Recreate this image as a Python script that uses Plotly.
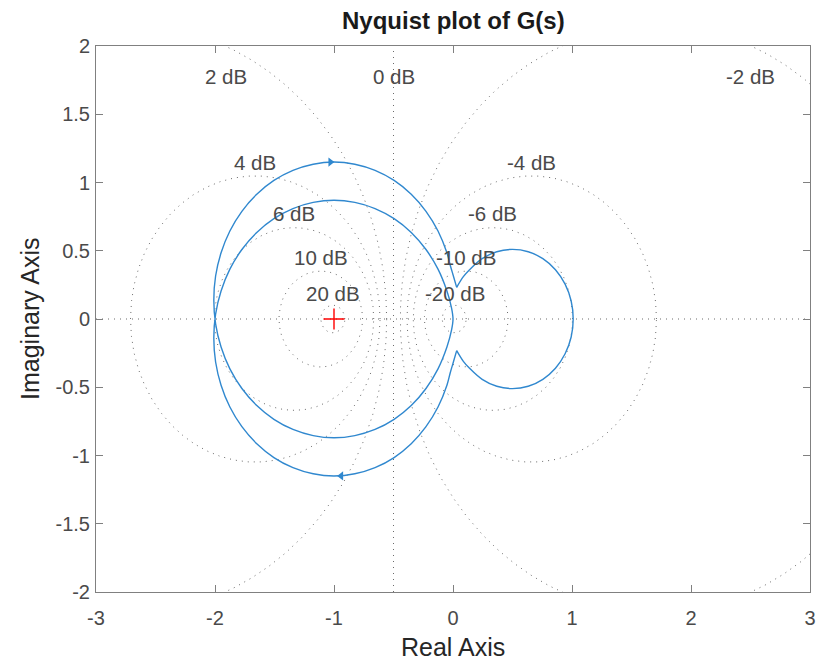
import numpy as np
import plotly.graph_objects as go

# ---------------- data ----------------
# positive-frequency branch, part 1: from w=0 (point 1+0j) to the cusp
small_re = [1.01, 0.993, 0.942, 0.861, 0.755, 0.632, 0.5, 0.368, 0.245, 0.139,
            0.087, 0.031]
small_im = [0.0, -0.132, -0.255, -0.361, -0.442, -0.493, -0.51, -0.493, -0.442, -0.361,
            -0.31, -0.232]

# positive-frequency branch, part 2: from the cusp round the big loop to the origin
loop_re = [0.031, 0.005, -0.022, -0.051, -0.126, -0.227, -0.351, -0.495, -0.655, -0.825,
           -1.0, -1.175, -1.345, -1.505, -1.649, -1.774, -1.875, -1.949, -1.995, -2.01,
           -1.995, -1.949, -1.875, -1.774, -1.649, -1.505, -1.345, -1.175, -1.0, -0.825,
           -0.655, -0.495, -0.351, -0.227, -0.126, -0.051, -0.012, 0.0]
loop_im = [-0.232, -0.31, -0.39, -0.485, -0.645, -0.789, -0.914, -1.015, -1.089, -1.134,
           -1.15, -1.134, -1.089, -1.015, -0.914, -0.789, -0.645, -0.485, -0.315, -0.14,
           0.035, 0.205, 0.365, 0.509, 0.634, 0.735, 0.809, 0.854, 0.87, 0.854,
           0.809, 0.735, 0.634, 0.509, 0.365, 0.205, 0.08, 0.0]

# constant closed-loop gain circles (dB) and their labels
grid_db = [20, 10, 6, 4, 2, -2, -4, -6, -10, -20]
label_text = ["2 dB", "0 dB", "-2 dB", "4 dB", "-4 dB", "6 dB", "-6 dB",
              "10 dB", "-10 dB", "20 dB", "-20 dB"]
label_x = [-1.91, -0.50, 2.50, -1.661, 0.661, -1.336, 0.336, -1.111, 0.111, -1.01, 0.02]
label_y = [1.78, 1.78, 1.78, 1.15, 1.15, 0.77, 0.77, 0.447, 0.447, 0.19, 0.19]

x_ticks = [-3, -2, -1, 0, 1, 2, 3]
x_ticklabels = ["-3", "-2", "-1", "0", "1", "2", "3"]
y_ticks = [-2, -1.5, -1, -0.5, 0, 0.5, 1, 1.5, 2]
y_ticklabels = ["-2", "-1.5", "-1", "-0.5", "0", "0.5", "1", "1.5", "2"]

critical_point = [-1.0, 0.0]

# ---------------- figure ----------------
LINE = "#3088cf"
GRID = "#5a5a5a"
TXT = "#4a4a4a"
FONT = "Liberation Sans, Arial, Helvetica, sans-serif"

fig = go.Figure()

# M-circles
t = np.linspace(0, 2 * np.pi, 721)
gx, gy = [], []
for db in grid_db:
    m = 10 ** (db / 20)
    c = -m * m / (m * m - 1)
    r = abs(m / (m * m - 1))
    gx += list(c + r * np.cos(t)) + [None]
    gy += list(r * np.sin(t)) + [None]
# 0 dB line and real axis
gx += [-0.5, -0.5, None, -3, 3]
gy += [-2, 2, None, 0, 0]
fig.add_trace(go.Scatter(x=gx, y=gy, mode="lines", hoverinfo="skip",
                         line=dict(color=GRID, width=0.9, dash="1px,5px"),
                         showlegend=False))

# Nyquist curve: small loop (both branches) and big loop (both branches)
sre = np.array(small_re); sim = np.array(small_im)
lre = np.array(loop_re); lim = np.array(loop_im)
ax_ = list(sre[::-1]) + list(sre[1:])
ay_ = list(-sim[::-1]) + list(sim[1:])
bx_ = list(lre) + list(lre[::-1][1:])
by_ = list(lim) + list(-lim[::-1][1:])
for xx, yy in [(ax_, ay_), (bx_, by_)]:
    fig.add_trace(go.Scatter(x=xx, y=yy, mode="lines", line_shape="spline",
                             line=dict(color=LINE, width=1.4, smoothing=1.0),
                             showlegend=False))

# direction arrows (at the bottom of the outer loop and its mirror)
i_arr = int(np.argmin(lim))
fig.add_trace(go.Scatter(x=[lre[i_arr] + 0.06], y=[lim[i_arr]], mode="markers",
                         marker=dict(symbol="triangle-left", size=8, color=LINE),
                         showlegend=False))
fig.add_trace(go.Scatter(x=[lre[i_arr] - 0.03], y=[-lim[i_arr]], mode="markers",
                         marker=dict(symbol="triangle-right", size=8, color=LINE),
                         showlegend=False))

# critical point
fig.add_trace(go.Scatter(x=[critical_point[0]], y=[critical_point[1]], mode="markers",
                         marker=dict(symbol="cross-thin", size=15,
                                     line=dict(color="red", width=1.4)),
                         showlegend=False))

for txt, lx, ly in zip(label_text, label_x, label_y):
    fig.add_annotation(x=lx, y=ly, text=txt, showarrow=False,
                       font=dict(family=FONT, size=20.5, color=TXT))

# titles placed in plot-area (paper) units
fig.add_annotation(xref="paper", yref="paper", x=0.5, y=(592 - 647) / 546,
                   text="Real Axis", showarrow=False, yanchor="middle",
                   font=dict(family=FONT, size=25, color="#262626"))
fig.add_annotation(xref="paper", yref="paper", x=(30 - 96) / 714, y=0.5,
                   text="Imaginary Axis", showarrow=False, textangle=-90,
                   xanchor="center", yanchor="middle",
                   font=dict(family=FONT, size=25, color="#262626"))
fig.add_annotation(xref="paper", yref="paper", x=0.5, y=(592 - 21) / 546,
                   text="<b>Nyquist plot of G(s)</b>", showarrow=False, yanchor="middle",
                   borderpad=0,
                   font=dict(family=FONT, size=24, color="#1a1a1a"))

axis_common = dict(showgrid=False, zeroline=False, showline=True, linecolor="#808080",
                   linewidth=1, mirror="ticks", ticks="inside", ticklen=7,
                   tickcolor="#808080",
                   tickfont=dict(family=FONT, size=20, color=TXT))
fig.update_xaxes(range=[-3, 3], tickvals=x_ticks, ticktext=x_ticklabels,
                 ticklabelstandoff=8, **axis_common)
fig.update_yaxes(range=[-2, 2], tickvals=y_ticks, ticktext=y_ticklabels,
                 ticklabelstandoff=1, **axis_common)

fig.update_layout(
    width=821, height=661,
    margin=dict(l=96, r=11, t=46, b=69, autoexpand=False),
    paper_bgcolor="white", plot_bgcolor="white",
)

# remove the default page margin so the figure sits at the window's top-left corner
fig.write_html("out.html", config={"displayModeBar": False},
               post_script="document.body.style.margin='0';")
